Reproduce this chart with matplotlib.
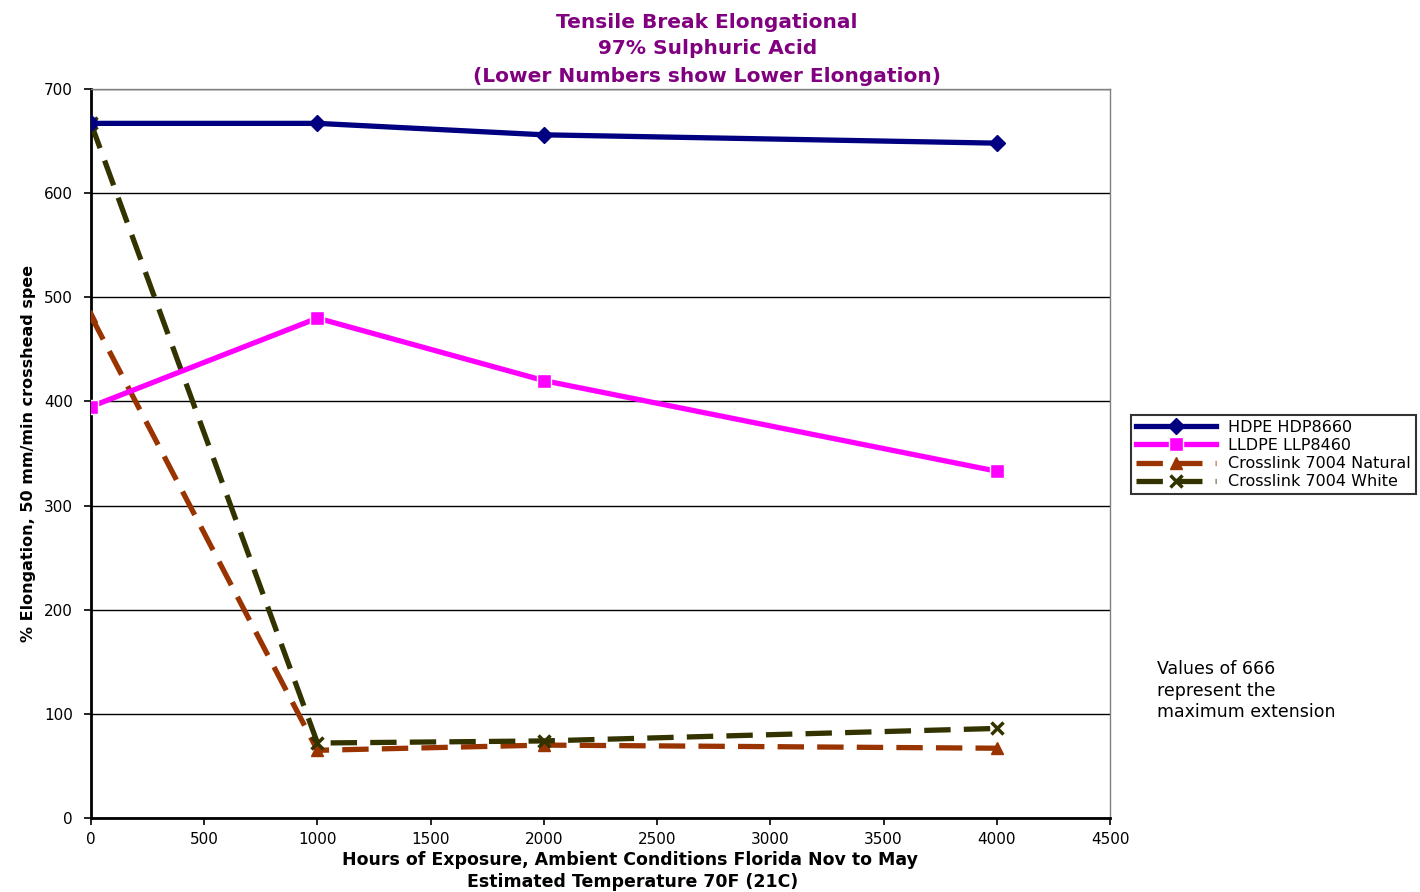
import matplotlib
matplotlib.use("Agg")
import matplotlib.pyplot as plt

hours = [0, 1000, 2000, 4000]
hdpe = [667, 667, 656, 648]
lldpe = [395, 480, 420, 333]
xl_natural = [482, 65, 70, 67]
xl_white = [667, 72, 74, 86]
series_names = ["HDPE HDP8660", "LLDPE LLP8460", "Crosslink 7004 Natural", "Crosslink 7004 White"]
x_ticks = [0, 500, 1000, 1500, 2000, 2500, 3000, 3500, 4000, 4500]
y_ticks = [0, 100, 200, 300, 400, 500, 600, 700]

plt.rcParams['font.family'] = ['DejaVu Sans']
fig = plt.figure(figsize=(14.2, 8.92), dpi=100)
ax = fig.add_axes([91/1420, 74/892, (1110-91)/1420, (818-89)/892])

ax.plot(hours, hdpe, color="#000080", lw=3.8, marker="D", ms=8, label=series_names[0], zorder=5)
ax.plot(hours, lldpe, color="#FF00FF", lw=3.8, marker="s", ms=10, mfc="#FF00FF", mec="white", mew=1, label=series_names[1], zorder=5)
ax.plot(hours, xl_natural, color="#993300", lw=3.8, dashes=(5, 2.5), marker="^", ms=8, label=series_names[2], zorder=4)
ax.plot(hours, xl_white, color="#333300", lw=3.8, dashes=(5, 2.5), marker="x", ms=8, mew=2.5, label=series_names[3], zorder=4)

ax.set_xlim(0, 4500)
ax.set_ylim(0, 700)
ax.set_xticks(x_ticks)
ax.set_yticks(y_ticks)
ax.set_xticklabels([str(v) for v in x_ticks], fontsize=11)
ax.set_yticklabels([str(v) for v in y_ticks], fontsize=11)
ax.yaxis.grid(True, color="black", lw=1)
ax.set_axisbelow(True)
ax.tick_params(axis="x", direction="out", length=5, width=1.2, pad=5)
ax.tick_params(axis="y", direction="out", length=5, width=1.2, pad=8)
for s in ["left", "bottom"]:
    ax.spines[s].set_linewidth(2)
    ax.spines[s].set_color("black")
for s in ["top", "right"]:
    ax.spines[s].set_linewidth(1)
    ax.spines[s].set_color("#808080")

ax.set_ylabel("% Elongation, 50 mm/min crosshead spee", fontsize=11.5, fontweight="bold", labelpad=6)

title_kw = dict(ha="center", va="center", color="#800080", fontsize=14.5, fontweight="bold")
fig.text(0.498, 1-22/892, "Tensile Break Elongational", **title_kw)
fig.text(0.498, 1-48/892, "97% Sulphuric Acid", **title_kw)
fig.text(0.498, 1-76/892, "(Lower Numbers show Lower Elongation)", **title_kw)

fig.text(630/1420, 1-860/892, "Hours of Exposure, Ambient Conditions Florida Nov to May", ha="center", va="center", fontsize=12.5, fontweight="bold")
fig.text(633/1420, 1-882/892, "Estimated Temperature 70F (21C)", ha="center", va="center", fontsize=12.5, fontweight="bold")

fig.text(1157/1420, 1-660/892, "Values of 666\nrepresent the\nmaximum extension", ha="left", va="top", fontsize=12.5, linespacing=1.25)

leg = fig.legend(loc="upper left", bbox_to_anchor=(1131/1420, 1-415/892), frameon=True, fancybox=False,
                 edgecolor="black", fontsize=11.5, handlelength=5, borderaxespad=0, labelspacing=0.2,
                 borderpad=0.3)
leg.get_frame().set_linewidth(1.5)

fig.savefig("out.png", dpi=100)
